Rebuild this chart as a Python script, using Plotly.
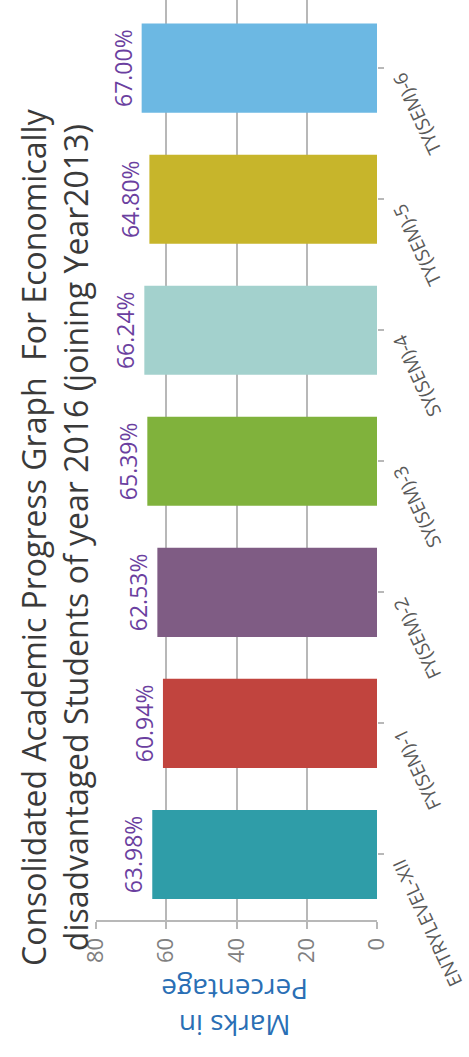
import plotly.graph_objects as go

categories = ["ENTRYLEVEL-XII", "FY(SEM)-1", "FY(SEM)-2", "SY(SEM)-3", "SY(SEM)-4", "TY(SEM)-5", "TY(SEM)-6"]
values = [63.98, 60.94, 62.53, 65.39, 66.24, 64.80, 67.00]
labels = ["63.98%", "60.94%", "62.53%", "65.39%", "66.24%", "64.80%", "67.00%"]
colors = ["#2f9da8", "#c1443e", "#7f5c84", "#80b23c", "#a3d1cd", "#c7b52b", "#6cb8e3"]
value_ticks = [0, 20, 40, 60, 80]
title_lines = ["Consolidated Academic Progress Graph  For Economically",
               "disadvantaged Students of year 2016 (joining Year2013)"]
axis_title_lines = ["Marks in", "Percentage"]

W, H = 469, 1057
ML, MR, MT, MB = 96, 92, 0, 137

fig = go.Figure()
fig.add_trace(go.Bar(
    y=categories, x=values, orientation="h",
    marker=dict(color=colors, line=dict(width=0)),
    text=labels, textposition="outside", textangle=-90,
    textfont=dict(family="Open Sans", size=23, color="#6b3fa0"),
    constraintext="none", cliponaxis=False, width=0.68,
))

annotations = []
for c in categories:
    annotations.append(dict(
        text=c, xref="paper", yref="y", x=1, y=c, xshift=7, yshift=2,
        xanchor="left", yanchor="top", textangle=-115, showarrow=False,
        font=dict(family="Open Sans", size=19, color="#595959"),
    ))
annotations.append(dict(
    text="<br>".join(title_lines), xref="paper", yref="paper",
    x=(54 - ML) / (W - ML - MR), y=(H - MB - 537) / (H - MB - MT),
    xanchor="center", yanchor="middle", textangle=-90, showarrow=False,
    font=dict(family="Open Sans", size=32, color="#3a3a3a"),
))
annotations.append(dict(
    text="<br>".join(axis_title_lines), xref="paper", yref="paper",
    x=(235 - ML) / (W - ML - MR), y=(H - MB - 1008) / (H - MB - MT),
    xanchor="center", yanchor="middle", textangle=180, showarrow=False,
    font=dict(family="Open Sans", size=28, color="#2a6fb5"),
))

fig.update_layout(
    width=W, height=H, margin=dict(l=ML, r=MR, t=MT, b=MB),
    paper_bgcolor="white", plot_bgcolor="white", showlegend=False,
    annotations=annotations,
    xaxis=dict(
        range=[80, 0], tickvals=value_ticks, tickangle=-90,
        showgrid=True, gridcolor="#b8b8b8", gridwidth=2, zeroline=False,
        showline=True, linecolor="#b8b8b8", linewidth=2,
        ticks="outside", ticklen=7, tickcolor="#b8b8b8", tickwidth=2,
        tickfont=dict(family="Open Sans", size=22, color="#808080"),
    ),
    yaxis=dict(
        type="category", categoryorder="array", categoryarray=categories,
        range=[-0.5, 6.52], side="right", showticklabels=False,
        showgrid=False, zeroline=False, showline=False,
        ticks="outside", ticklen=6, tickcolor="#b8b8b8", tickwidth=2,
    ),
)

fig.write_html("out.html")
